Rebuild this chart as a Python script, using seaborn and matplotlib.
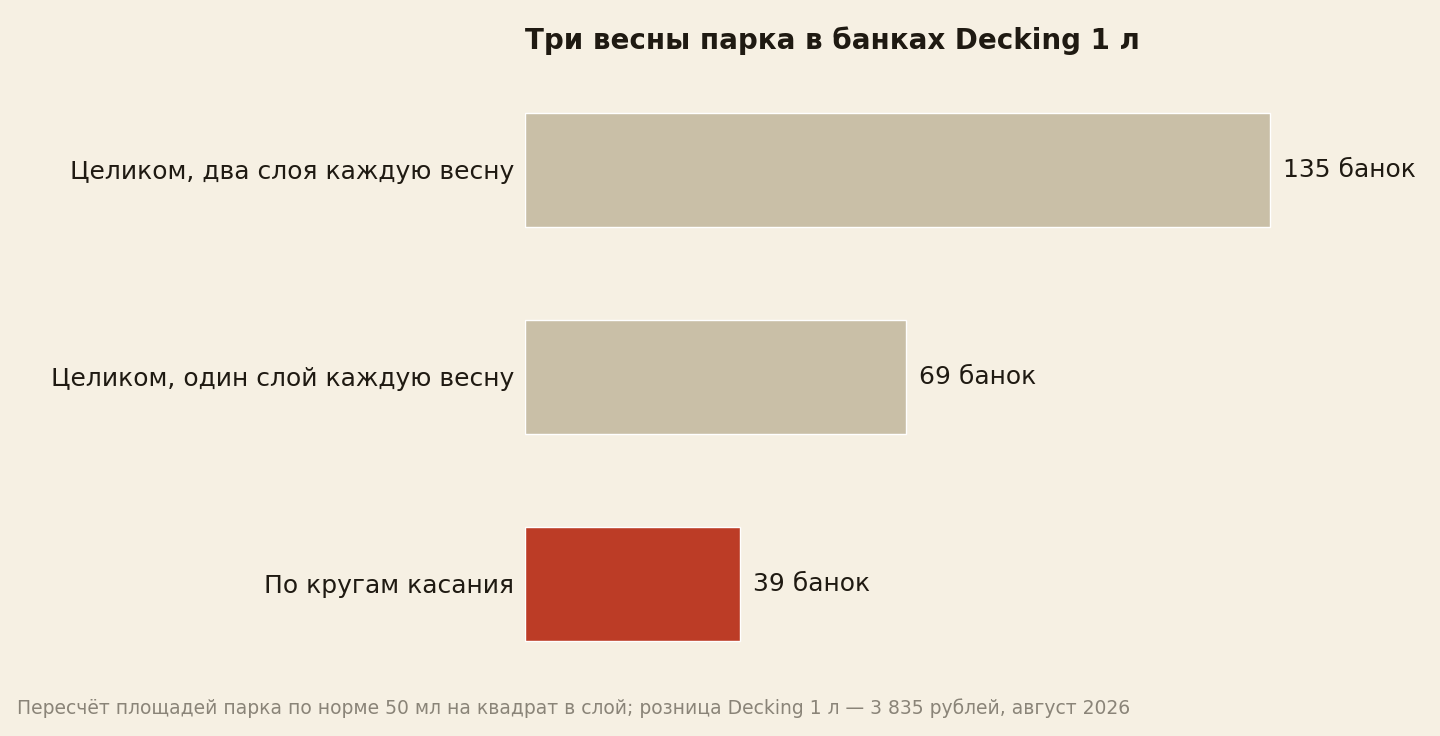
import matplotlib
matplotlib.use("Agg")
import matplotlib.pyplot as plt
import seaborn as sns
import pandas as pd

# Data
categories = ["Целиком, два слоя каждую весну",
              "Целиком, один слой каждую весну",
              "По кругам касания"]
values = [135, 69, 39]
bar_colors = ["#C9BFA7", "#C9BFA7", "#BC3C26"]

bg = "#F6F0E3"
ink = "#1F1A12"

sns.set_theme(style="white")
plt.rcParams["font.family"] = ["DejaVu Sans"]

df = pd.DataFrame({"cat": categories, "val": values})

fig = plt.figure(figsize=(14.4, 7.36), dpi=100, facecolor=bg)
ax = fig.add_axes([0.3646, 0.066, 0.6354, 0.844])
ax.set_facecolor(bg)

sns.barplot(data=df, x="val", y="cat", hue="cat", palette=bar_colors,
            legend=False, width=0.55, saturation=1, ax=ax)

ax.set_xlim(0, 165.8)
ax.set_ylim(2.5, -0.5)
for i, v in enumerate(values):
    ax.text(v + 2.4, i, f"{v} банок", va="center", ha="left", fontsize=18, color=ink)

ax.set_xlabel("")
ax.set_ylabel("")
ax.set_xticks([])
ax.tick_params(axis="y", length=0, pad=8, labelsize=18, labelcolor=ink)
for s in ax.spines.values():
    s.set_visible(False)

fig.text(0.3646, 0.945, "Три весны парка в банках Decking 1 л", fontsize=20,
         fontweight="bold", color=ink, ha="left", va="center")
fig.text(0.012, 0.038, "Пересчёт площадей парка по норме 50 мл на квадрат в слой; "
         "розница Decking 1 л — 3 835 рублей, август 2026",
         fontsize=13.5, color="#8A8478", ha="left", va="center")

fig.savefig("out.png", dpi=100, facecolor=bg)
